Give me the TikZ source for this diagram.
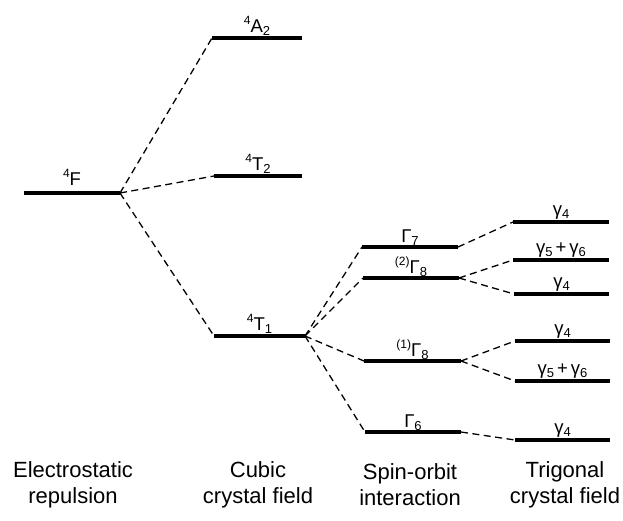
\documentclass[tikz,border=0pt]{standalone}
\usepackage{fontspec}
\setmainfont{Liberation Sans}
\newcommand\lsub[1]{\raisebox{-0.35ex}{\fontsize{13}{13}\selectfont #1}}
\newcommand\lsup[1]{\raisebox{0.75ex}{\fontsize{12}{12}\selectfont #1}}
\newcommand\mklev[6]{%
  \coordinate (#1L) at (#2,#4);
  \coordinate (#1R) at (#3,#4);
  \draw[levline] (#1L) -- (#1R);
  \node[levlab] (#1T) at ({(#2+#3)/2},{#4-#6}) {#5};}
\begin{document}
\begin{tikzpicture}[x=1pt,y=-1pt,
  levline/.style={line width=3.6pt},
  linkline/.style={line width=1.3pt, dash pattern=on 7pt off 4.5pt},
  levlab/.style={font=\fontsize{18.5}{20}\selectfont, anchor=base, inner sep=0pt},
  captxt/.style={font=\fontsize{22}{26}\selectfont, align=center, inner sep=0pt}]
\useasboundingbox (0,0) rectangle (623,520);
\mklev{F}{24}{120}{193}{\lsup{4}F}{8}
\mklev{A}{212}{302}{38}{\lsup{4}A\lsub{2}}{6}
\mklev{Tb}{214}{302}{176}{\lsup{4}T\lsub{2}}{6}
\mklev{Ta}{214}{305}{336}{\lsup{4}T\lsub{1}}{6}
\mklev{Gs}{362}{458}{247}{Γ\lsub{7}}{5}
\mklev{Gb}{363}{459}{278}{\lsup{(2)}Γ\lsub{8}}{5}
\mklev{Ga}{364}{461}{361}{\lsup{(1)}Γ\lsub{8}}{5}
\mklev{Gx}{365}{461}{432}{Γ\lsub{6}}{5}
\mklev{ra}{513}{609}{222}{γ\lsub{4}}{7}
\mklev{rb}{513}{609}{260}{γ\lsub{5}\,+\,γ\lsub{6}}{7}
\mklev{rc}{514}{609}{294}{γ\lsub{4}}{7}
\mklev{rd}{515}{610}{341}{γ\lsub{4}}{7}
\mklev{re}{515}{610}{381}{γ\lsub{5}\,+\,γ\lsub{6}}{7}
\mklev{rf}{515}{610}{440}{γ\lsub{4}}{7}
\draw[linkline] (FR) -- (AL);
\draw[linkline] (FR) -- (TbL);
\draw[linkline] (FR) -- (TaL);
\draw[linkline] (TaR) -- (GsL);
\draw[linkline] (TaR) -- (GbL);
\draw[linkline] (TaR) -- (GaL);
\draw[linkline] (TaR) -- (GxL);
\draw[linkline] (GsR) -- (raL);
\draw[linkline] (GbR) -- (rbL);
\draw[linkline] (GbR) -- (rcL);
\draw[linkline] (GaR) -- (rdL);
\draw[linkline] (GaR) -- (reL);
\draw[linkline] (GxR) -- (rfL);
\node[captxt] (c1) at (73,485) {Electrostatic\\repulsion};
\node[captxt] (c2) at (258,485) {Cubic\\crystal field};
\node[captxt] (c3) at (410,485) {Spin-orbit\\interaction};
\node[captxt] (c4) at (565,485) {Trigonal\\crystal field};
\end{tikzpicture}
\end{document}
